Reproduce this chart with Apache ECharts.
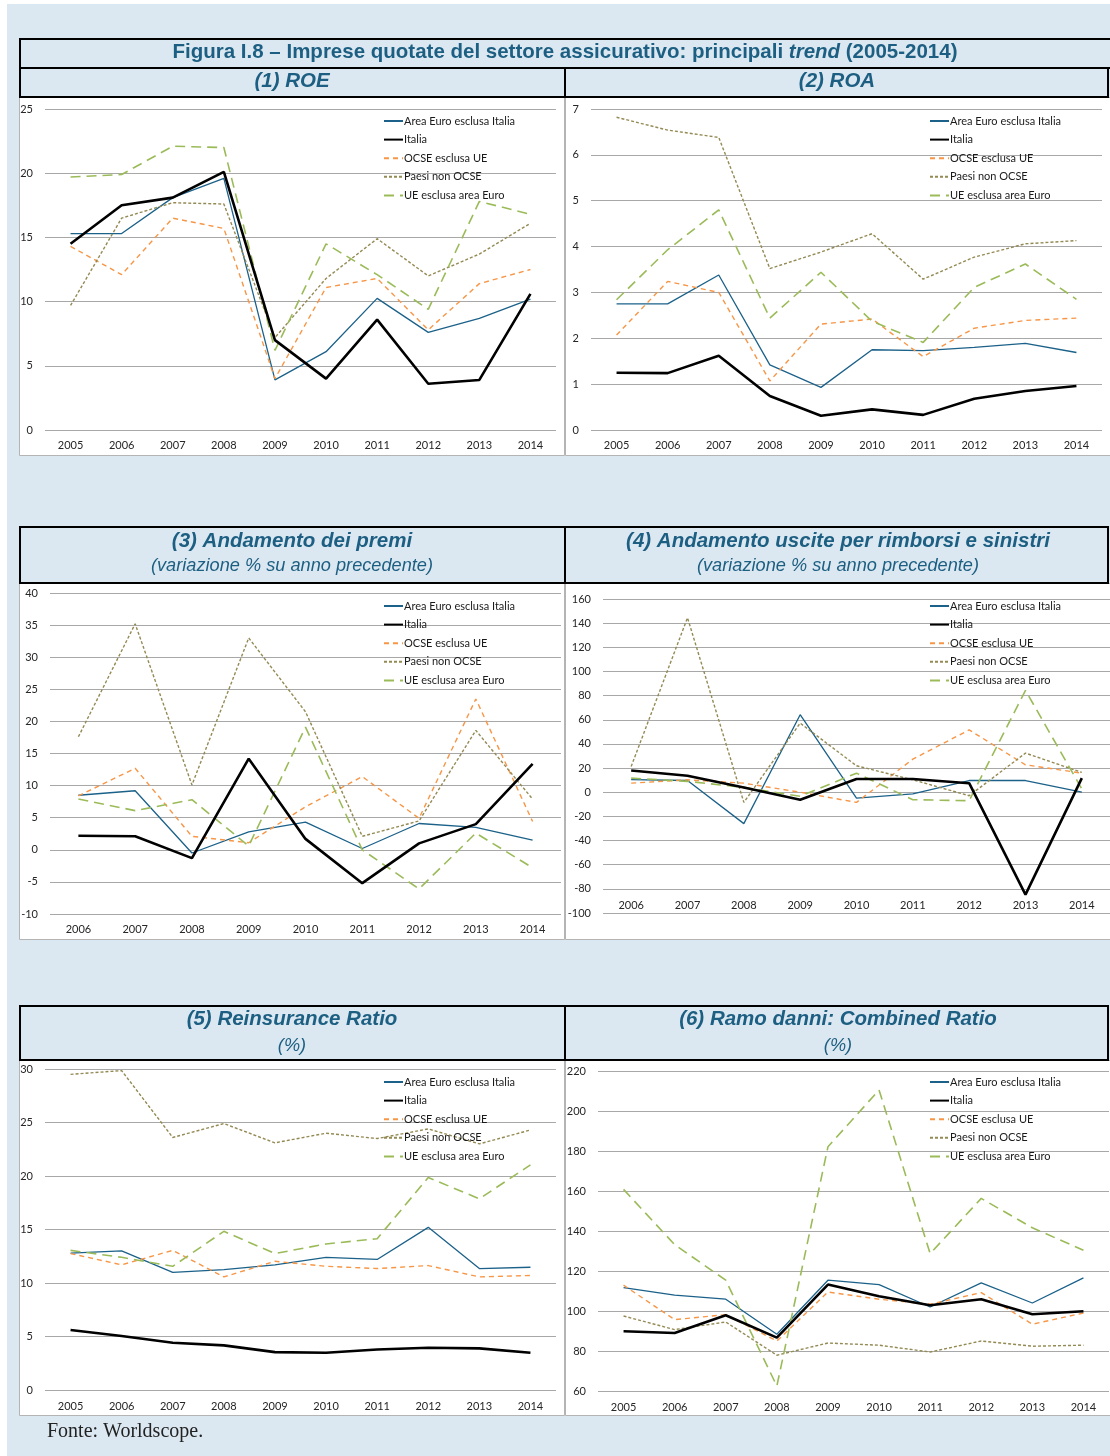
<!DOCTYPE html>
<html>
<head>
<meta charset="utf-8">
<script src="https://cdn.jsdelivr.net/npm/echarts@6/dist/echarts.min.js"></script>
<style>
  html, body { margin: 0; padding: 0; background: #fff; }
  #chart { width: 1110px; height: 1456px; }
</style>
</head>
<body>
<div id="chart"></div>
<script>
// categorie
const years05 = ['2005', '2006', '2007', '2008', '2009', '2010', '2011', '2012', '2013', '2014'];
const years06 = ['2006', '2007', '2008', '2009', '2010', '2011', '2012', '2013', '2014'];
const seriesNames = ['Area Euro esclusa Italia', 'Italia', 'OCSE esclusa UE', 'Paesi non OCSE', 'UE esclusa area Euro'];

// (1) ROE
const roeAreaEuro = [15.3, 15.3, 18.1, 19.6, 3.9, 6.1, 10.25, 7.6, 8.7, 10.2];
const roeItalia   = [14.5, 17.5, 18.1, 20.1, 7.0, 4.0, 8.6, 3.6, 3.9, 10.6];
const roeOcse     = [14.3, 12.1, 16.5, 15.7, 4.0, 11.1, 11.8, 7.8, 11.4, 12.5];
const roePaesi    = [9.7, 16.5, 17.7, 17.6, 7.2, 11.8, 14.9, 12.0, 13.7, 16.1];
const roeUe       = [19.7, 19.9, 22.1, 22.0, 6.2, 14.5, 12.1, 9.4, 17.8, 16.8];

// (2) ROA
const roaAreaEuro = [2.75, 2.75, 3.38, 1.42, 0.93, 1.75, 1.73, 1.8, 1.89, 1.69];
const roaItalia   = [1.25, 1.24, 1.62, 0.74, 0.31, 0.45, 0.33, 0.68, 0.85, 0.96];
const roaOcse     = [2.07, 3.24, 3.0, 1.07, 2.31, 2.42, 1.6, 2.22, 2.39, 2.44];
const roaPaesi    = [6.82, 6.54, 6.38, 3.52, 3.88, 4.28, 3.29, 3.77, 4.06, 4.13];
const roaUe       = [2.84, 3.93, 4.8, 2.44, 3.44, 2.37, 1.91, 3.11, 3.62, 2.85];

// (3) Andamento dei premi
const premiAreaEuro = [8.5, 9.2, -0.5, 2.8, 4.3, 0.2, 4.1, 3.5, 1.5];
const premiItalia   = [2.2, 2.1, -1.3, 14.2, 1.7, -5.2, 1.0, 4.0, 13.4];
const premiOcse     = [8.4, 12.7, 2.1, 1.1, 6.7, 11.4, 4.9, 23.5, 4.4];
const premiPaesi    = [17.6, 35.2, 10.1, 33.0, 21.5, 2.1, 4.5, 18.6, 7.9];
const premiUe       = [7.9, 6.1, 7.8, 0.6, 19.1, 0.0, -6.1, 2.6, -2.8];

// (4) Andamento uscite per rimborsi e sinistri
const usciteAreaEuro = [10.5, 9.7, -26, 64.2, -4.8, -1.3, 9.7, 9.7, 0];
const usciteItalia   = [18, 13.6, 4, -6.2, 10.9, 10.9, 7.5, -84.8, 11.7];
const usciteOcse     = [7.5, 10.3, 7.5, 0, -8.4, 27.4, 51.6, 22.7, 15.8];
const uscitePaesi    = [21.3, 144.5, -8.4, 57.2, 21.9, 10.3, -2.9, 32.4, 16.4];
const usciteUe       = [11.7, 9, 4, -3.4, 15.8, -6.2, -7, 84.3, 2.7];

// (5) Reinsurance Ratio
const reinsAreaEuro = [12.8, 13.0, 11.0, 11.25, 11.7, 12.4, 12.2, 15.2, 11.35, 11.47];
const reinsItalia   = [5.6, 5.04, 4.41, 4.17, 3.54, 3.48, 3.79, 3.95, 3.89, 3.48];
const reinsOcse     = [12.75, 11.7, 13.05, 10.57, 12.03, 11.56, 11.35, 11.63, 10.57, 10.7];
const reinsPaesi    = [29.5, 29.85, 23.6, 24.9, 23.1, 24.0, 23.5, 24.4, 23.0, 24.3];
const reinsUe       = [13.05, 12.4, 11.56, 14.83, 12.75, 13.65, 14.14, 19.86, 17.87, 21.04];

// (6) Ramo danni: Combined Ratio
const combAreaEuro = [111.7, 107.9, 105.9, 88.4, 115.4, 113.2, 102.0, 114.1, 104.0, 116.6];
const combItalia   = [89.9, 89.0, 97.9, 86.7, 113.2, 107.4, 102.9, 105.9, 98.4, 99.9];
const combOcse     = [112.9, 95.7, 98.2, 85.0, 109.5, 105.9, 103.4, 109.2, 93.4, 99.0];
const combPaesi    = [97.5, 90.7, 94.5, 77.9, 84.0, 82.9, 79.5, 85.0, 82.4, 82.9];
const combUe       = [160.8, 133.2, 115.4, 62.5, 182.1, 210.5, 128.7, 156.3, 141.6, 130.4];

const lineStyles = [
  { color: '#1b6189', width: 1.3, type: 'solid' },
  { color: '#000000', width: 2.6, type: 'solid' },
  { color: '#f79646', width: 1.4, type: [5, 4] },
  { color: '#948a54', width: 1.4, type: [3, 2] },
  { color: '#9bbb59', width: 1.6, type: [10, 6] }
];

const panels = [
  { cats: years05, data: [roeAreaEuro, roeItalia, roeOcse, roePaesi, roeUe], min: 0, max: 25, step: 5, grid: [45, 109, 511, 321], legend: [383, 114], xMargin: 10 },
  { cats: years05, data: [roaAreaEuro, roaItalia, roaOcse, roaPaesi, roaUe], min: 0, max: 7, step: 1, grid: [591, 109, 511, 321], legend: [929, 114], xMargin: 10 },
  { cats: years06, data: [premiAreaEuro, premiItalia, premiOcse, premiPaesi, premiUe], min: -10, max: 40, step: 5, grid: [50, 593, 511, 321], legend: [383, 599], xMargin: 10 },
  { cats: years06, data: [usciteAreaEuro, usciteItalia, usciteOcse, uscitePaesi, usciteUe], min: -100, max: 160, step: 20, grid: [603, 599, 507, 314], legend: [929, 599], xMargin: -13 },
  { cats: years05, data: [reinsAreaEuro, reinsItalia, reinsOcse, reinsPaesi, reinsUe], min: 0, max: 30, step: 5, grid: [45, 1069, 511, 321], legend: [383, 1075], xMargin: 11 },
  { cats: years05, data: [combAreaEuro, combItalia, combOcse, combPaesi, combUe], min: 60, max: 220, step: 20, grid: [598, 1071, 511, 320], legend: [929, 1075], xMargin: 11 }
];

const teal = '#1d5f82';
const labelFont = 'Lato, "Open Sans", sans-serif';
const headFont = '"Liberation Sans", Arial, sans-serif';

const grids = [], xAxes = [], yAxes = [], legends = [], series = [];
panels.forEach(function (p, i) {
  grids.push({ left: p.grid[0], top: p.grid[1], width: p.grid[2], height: p.grid[3] });
  xAxes.push({
    type: 'category', gridIndex: i, data: p.cats,
    axisLine: { show: false }, axisTick: { show: false },
    axisLabel: { margin: p.xMargin, color: '#262626', fontSize: 11, fontFamily: labelFont }
  });
  yAxes.push({
    type: 'value', gridIndex: i, min: p.min, max: p.max, interval: p.step,
    axisLine: { show: false }, axisTick: { show: false },
    axisLabel: { margin: 12, color: '#262626', fontSize: 11, fontFamily: labelFont },
    splitLine: { lineStyle: { color: '#a8a8a8', width: 1 } }
  });
  legends.push({
    orient: 'vertical', left: p.legend[0], top: p.legend[1], padding: 0,
    itemWidth: 19, itemHeight: 10, itemGap: 4.6, selectedMode: false,
    itemStyle: { opacity: 0 },
    data: seriesNames,
    textStyle: { color: '#1a1a1a', fontSize: 11, fontFamily: labelFont, lineHeight: 14, padding: [0, 0, 0, -4] }
  });
  p.data.forEach(function (vals, k) {
    series.push({
      name: seriesNames[k], type: 'line', xAxisIndex: i, yAxisIndex: i,
      data: vals, symbol: 'none', showSymbol: false, silent: true,
      lineStyle: lineStyles[k], itemStyle: { color: lineStyles[k].color },
      z: k === 1 ? 4 : 3
    });
  });
});

function headTitle(text, sub, x, top, gap) {
  return {
    text: text, subtext: sub || '', left: x, top: top, textAlign: 'center', padding: 0, itemGap: gap || 0,
    textStyle: { color: teal, fontSize: 20.5, fontWeight: 'bold', fontStyle: 'italic', fontFamily: headFont, lineHeight: 22 },
    subtextStyle: { color: teal, fontSize: 18.2, fontStyle: 'italic', fontFamily: headFont, lineHeight: 20 }
  };
}

const titles = [
  {
    text: '{a|Figura I.8 – Imprese quotate del settore assicurativo: principali }{b|trend}{a| (2005-2014)}',
    left: 565, top: 41, textAlign: 'center', padding: 0,
    textStyle: {
      rich: {
        a: { color: teal, fontSize: 20.5, fontWeight: 'bold', fontFamily: headFont, lineHeight: 22 },
        b: { color: teal, fontSize: 20.5, fontWeight: 'bold', fontStyle: 'italic', fontFamily: headFont, lineHeight: 22 }
      }
    }
  },
  headTitle('(1) ROE', '', 292, 70),
  headTitle('(2) ROA', '', 837, 70),
  headTitle('(3) Andamento dei premi', '(variazione % su anno precedente)', 292, 530, 4),
  headTitle('(4) Andamento uscite per rimborsi e sinistri', '(variazione % su anno precedente)', 838, 530, 4),
  headTitle('(5) Reinsurance Ratio', '(%)', 292, 1008, 6),
  headTitle('(6) Ramo danni: Combined Ratio', '(%)', 838, 1008, 6),
  {
    text: 'Fonte: Worldscope.', left: 47, top: 1421, padding: 0,
    textStyle: { color: '#222', fontSize: 20, fontWeight: 'normal', fontFamily: '"Liberation Serif", "DejaVu Serif", serif', lineHeight: 22 }
  }
];

const frame = { stroke: '#000', lineWidth: 2, fill: 'transparent' };
const panelStyle = { fill: '#ffffff', stroke: '#b4b4b4', lineWidth: 1 };
const graphics = [
  { type: 'rect', z: -5, shape: { x: 7, y: 4, width: 1103, height: 1452 }, style: { fill: '#dce8f1' } },
  // blocco 1
  { type: 'rect', z: -4, shape: { x: 19.5, y: 97.5, width: 545, height: 358 }, style: panelStyle },
  { type: 'rect', z: -4, shape: { x: 565.5, y: 97.5, width: 545, height: 358 }, style: panelStyle },
  { type: 'rect', z: -3, shape: { x: 20, y: 39, width: 1100, height: 29 }, style: frame },
  { type: 'rect', z: -3, shape: { x: 20, y: 68, width: 1088, height: 29 }, style: frame },
  { type: 'line', z: -3, shape: { x1: 565, y1: 68, x2: 565, y2: 97 }, style: { stroke: '#000', lineWidth: 2 } },
  // blocco 2
  { type: 'rect', z: -4, shape: { x: 19.5, y: 583.5, width: 545, height: 356 }, style: panelStyle },
  { type: 'rect', z: -4, shape: { x: 565.5, y: 583.5, width: 545, height: 356 }, style: panelStyle },
  { type: 'rect', z: -3, shape: { x: 20, y: 527, width: 1088, height: 56 }, style: frame },
  { type: 'line', z: -3, shape: { x1: 565, y1: 527, x2: 565, y2: 583 }, style: { stroke: '#000', lineWidth: 2 } },
  // blocco 3
  { type: 'rect', z: -4, shape: { x: 19.5, y: 1060.5, width: 545, height: 355 }, style: panelStyle },
  { type: 'rect', z: -4, shape: { x: 565.5, y: 1060.5, width: 545, height: 355 }, style: panelStyle },
  { type: 'rect', z: -3, shape: { x: 20, y: 1006, width: 1088, height: 54 }, style: frame },
  { type: 'line', z: -3, shape: { x1: 565, y1: 1006, x2: 565, y2: 1060 }, style: { stroke: '#000', lineWidth: 2 } }
];

const myChart = echarts.init(document.getElementById('chart'));
const option = {
  animation: false,
  backgroundColor: '#ffffff',
  title: titles,
  graphic: graphics,
  grid: grids,
  xAxis: xAxes,
  yAxis: yAxes,
  legend: legends,
  series: series
};
myChart.setOption(option);
window.addEventListener('resize', function () {
  myChart.resize();
});
</script>
</body>
</html>
